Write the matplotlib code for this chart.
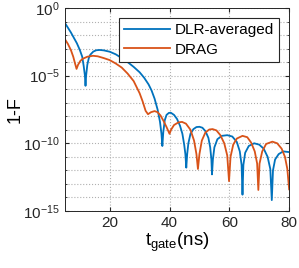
import numpy as np
import matplotlib
matplotlib.use("Agg")
import matplotlib.pyplot as plt
from matplotlib.ticker import LogLocator, FixedLocator, NullFormatter

plt.rcParams['font.family'] = ['Liberation Sans', 'DejaVu Sans']
plt.rcParams['mathtext.fontset'] = 'custom'
plt.rcParams['mathtext.rm'] = 'Liberation Sans'
plt.rcParams['mathtext.it'] = 'Liberation Sans:italic'

# gate time (ns) and log10(1-F)
dlr_t = [5.0, 6.0, 7.0, 8.0, 9.0, 10.0, 10.8, 11.3, 11.7, 11.9, 12.1, 12.5, 13.0, 13.5,
         14.5, 15.5, 16.7, 18.0, 20.0, 22.0, 24.0, 26.0, 28.0, 30.0, 31.5, 33.0, 34.0,
         35.0, 36.0, 36.8, 37.3, 37.6, 37.9, 38.4, 39.0, 39.8, 40.5, 41.5, 42.5, 43.5,
         44.3, 44.9, 45.3, 45.6, 45.9, 46.3, 47.0, 48.0, 49.0, 50.0, 51.0, 52.0, 53.0,
         53.6, 54.0, 54.2, 54.5, 55.0, 56.0, 57.5, 59.3, 61.0, 62.5, 63.5, 64.1, 64.4,
         64.7, 65.3, 66.5, 68.3, 70.0, 71.5, 72.8, 73.7, 74.2, 74.6, 75.3, 76.5, 78.0, 80.0]
dlr_log = [-1.1, -1.45, -1.8, -2.2, -2.6, -3.1, -3.6, -4.3, -5.0, -5.75, -5.0, -4.2, -3.7, -3.45,
           -3.22, -3.12, -3.1, -3.13, -3.23, -3.42, -3.7, -4.0, -4.35, -4.75, -5.15, -5.65, -6.1,
           -6.7, -7.5, -8.4, -9.3, -10.2, -9.2, -8.3, -7.9, -7.75, -7.75, -7.9, -8.2, -8.7,
           -9.3, -10.1, -10.8, -11.8, -10.8, -10.0, -9.3, -8.95, -8.8, -8.78, -8.85, -9.1, -9.6,
           -10.3, -11.2, -12.3, -11.2, -10.3, -9.7, -9.45, -9.4, -9.5, -9.9, -10.6, -11.6, -13.8,
           -11.6, -10.7, -10.2, -10.0, -10.1, -10.4, -11.0, -11.9, -14.2, -12.0, -11.2, -10.8, -10.6, -10.65]

drag_t = [5.0, 6.0, 7.0, 7.8, 8.4, 8.9, 9.4, 10.2, 11.0, 12.5, 14.4, 16.0, 18.0, 20.0,
          22.0, 24.0, 26.0, 28.0, 30.0, 31.0, 32.0, 32.8, 33.8, 35.0, 36.0, 37.0, 38.0,
          39.0, 39.6, 40.0, 40.5, 41.5, 43.0, 44.2, 45.5, 47.0, 48.2, 49.0, 49.5, 50.0,
          50.8, 52.0, 53.3, 54.4, 55.7, 57.0, 58.3, 59.3, 59.9, 60.4, 61.3, 62.5, 64.4,
          66.0, 67.3, 68.5, 69.3, 69.7, 70.1, 71.0, 72.3, 74.4, 76.0, 77.5, 78.6, 79.4, 80.0]
drag_log = [-2.3, -2.65, -3.1, -3.6, -4.1, -4.5, -4.2, -3.9, -3.75, -3.6, -3.53, -3.57, -3.7, -3.85,
            -4.1, -4.4, -4.85, -5.4, -6.3, -6.9, -7.6, -7.85, -7.7, -7.62, -7.7, -7.95, -8.35,
            -8.8, -9.1, -9.3, -9.0, -8.65, -8.45, -8.42, -8.55, -9.0, -9.8, -10.8, -11.9, -10.8,
            -9.8, -9.2, -8.98, -8.95, -9.05, -9.4, -10.0, -10.9, -12.8, -11.0, -10.1, -9.65, -9.45,
            -9.55, -9.95, -10.6, -11.5, -13.45, -11.5, -10.6, -10.05, -9.88, -10.0, -10.4, -11.0, -11.9, -13.4]

fig = plt.figure(figsize=(2.99, 2.68), dpi=100)
ax = fig.add_axes([0.217, 0.213, 0.75, 0.757])

ax.semilogy(dlr_t, 10.0 ** np.array(dlr_log), color='#0072BD', lw=1.3, label='DLR-averaged')
ax.semilogy(drag_t, 10.0 ** np.array(drag_log), color='#D95319', lw=1.3, label='DRAG')

ax.set_xlim(5, 80)
ax.set_ylim(1e-15, 1e0)
ax.xaxis.set_major_locator(FixedLocator([20, 40, 60, 80]))
ax.yaxis.set_major_locator(FixedLocator([1e-15, 1e-10, 1e-5, 1e0]))
ax.yaxis.set_minor_locator(LogLocator(base=10, subs=(1.0,), numticks=30))
ax.yaxis.set_minor_formatter(NullFormatter())
ax.grid(True, which='major', axis='x', ls=':', color='#b0b0b0', lw=0.8)
ax.grid(True, which='both', axis='y', ls=':', color='#b0b0b0', lw=0.8)
ax.tick_params(which='both', direction='in', top=True, right=True, colors='#262626',
               labelsize=11, length=3)
ax.tick_params(which='minor', length=1.5)
for s in ax.spines.values():
    s.set_color('#262626')
    s.set_linewidth(0.7)

ax.set_xlabel(r't$_{\mathrm{gate}}$(ns)', fontsize=13.5, labelpad=1)
ax.set_ylabel('1-F', fontsize=13, labelpad=0)

leg = ax.legend(loc='upper right', fontsize=11, fancybox=False, framealpha=1,
                edgecolor='#262626', handlelength=3.0, borderpad=0.35,
                labelspacing=0.35, borderaxespad=0.65, handletextpad=0.3)
leg.get_frame().set_linewidth(0.8)

fig.savefig('out.png', dpi=100)
